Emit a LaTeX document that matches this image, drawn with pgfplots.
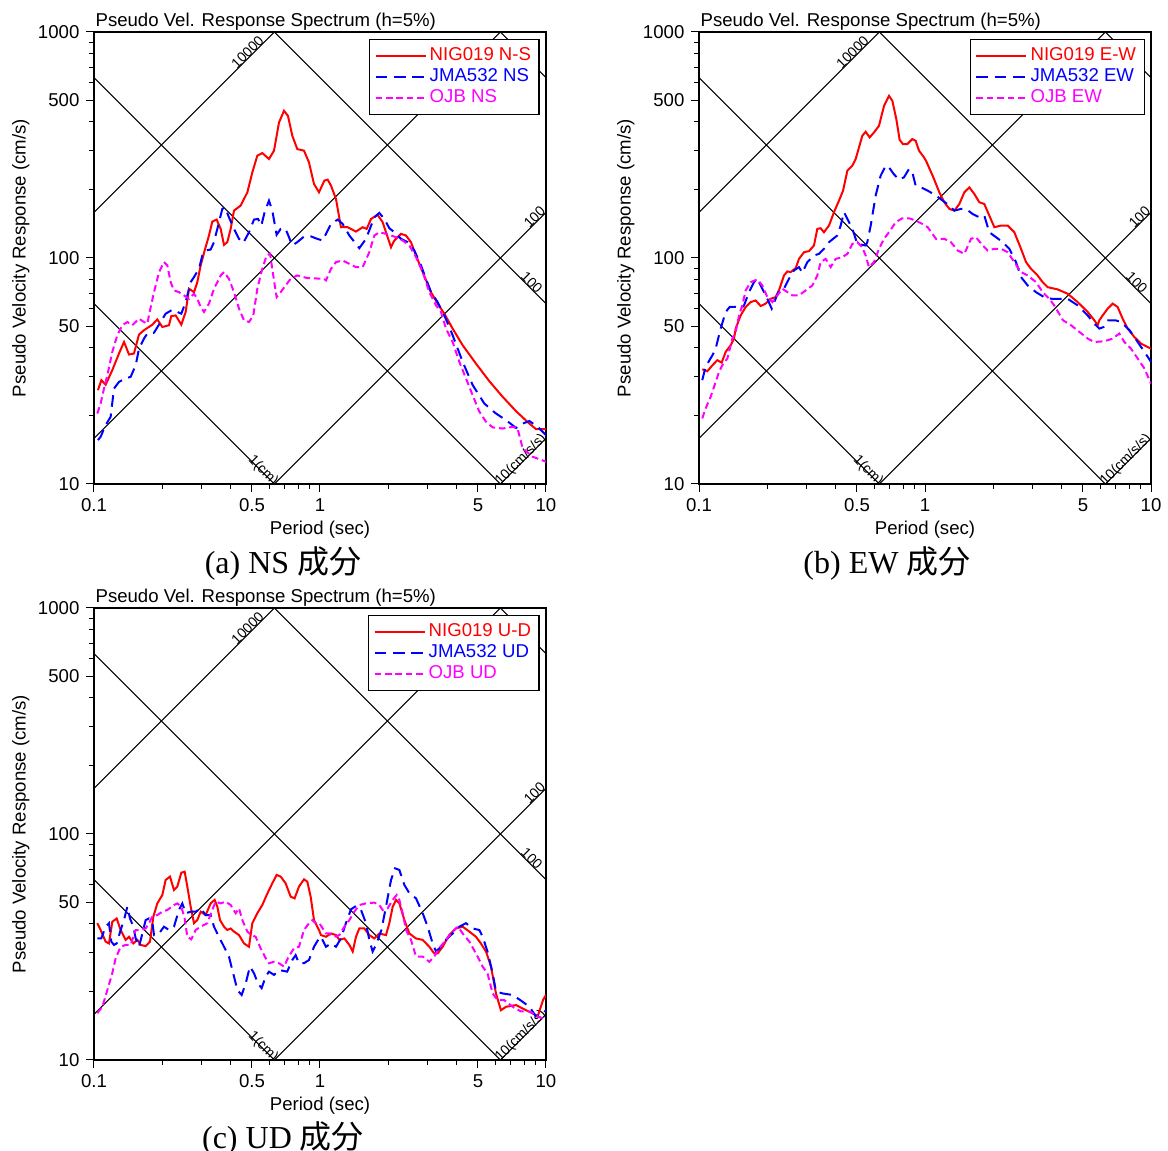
\documentclass[border=0pt]{standalone}
\usepackage{pgfplots}
\pgfplotsset{compat=1.18}
\usepackage{fontspec}
\setmainfont{Liberation Sans}
\newfontfamily\capfont{Liberation Serif}
\newfontfamily\cjk{Noto Sans CJK JP}
\definecolor{cR}{RGB}{255,0,0}
\definecolor{cB}{RGB}{0,0,255}
\definecolor{cM}{RGB}{255,0,255}
\newcommand{\tf}{\fontsize{9.3}{11}\selectfont}
\tikzset{
  dlab/.style={anchor=base, inner sep=0pt, font=\fontsize{7}{8}\selectfont},
  rline/.style={cR, line width=1pt},
  bline/.style={cB, line width=1pt, dash pattern=on 5.8pt off 3.4pt},
  mline/.style={cM, line width=1pt, dash pattern=on 3.3pt off 1.9pt},
  gline/.style={black, line width=0.5pt},
}
\pgfplotsset{
  every axis/.append style={
    xmode=log, ymode=log, scale only axis, width=226pt, height=226pt,
    xmin=0.1, xmax=10, ymin=10, ymax=1000,
    xtick={0.1,0.5,1,5,10}, xticklabels={0.1,0.5,1,5,10},
    minor xtick={0.2,0.3,0.4,0.6,0.7,0.8,0.9,2,3,4,6,7,8,9},
    ytick={10,50,100,500,1000}, yticklabels={10,50,100,500,1000},
    minor ytick={20,30,40,60,70,80,90,200,300,400,600,700,800,900},
    tick align=outside, xtick pos=left, ytick pos=left,
    major tick length=3.8pt, minor tick length=2.6pt,
    axis line style={line width=0.75pt},
    tick style={black, line width=0.5pt},
    tick label style={font=\tf},
    label style={font=\tf},
    xlabel style={at={(axis description cs:0.5,-0.1)}, anchor=center},
    ylabel style={at={(axis description cs:-0.162,0.5)}, anchor=center},
    clip mode=individual,
    legend style={at={(1,1)}, xshift=-3pt, yshift=-3.4pt, anchor=north east, draw=black,
      line width=0.75pt, fill=white, font=\tf, row sep=-0.7pt, inner xsep=2.5pt, inner ysep=2.6pt,
      nodes={inner sep=1.6pt}},
    legend cell align=left,
  },
}
\newcommand{\tripgrid}{%
  \addplot[gline, forget plot] coordinates {(0.1,62.83) (0.6283,10)};
  \addplot[gline, forget plot] coordinates {(0.1,628.3) (6.283,10)};
  \addplot[gline, forget plot] coordinates {(0.6283,1000) (10,62.83)};
  \addplot[gline, forget plot] coordinates {(6.283,1000) (10,628.3)};
  \addplot[gline, forget plot] coordinates {(6.283,10) (10,15.92)};
  \addplot[gline, forget plot] coordinates {(0.6283,10) (10,159.2)};
  \addplot[gline, forget plot] coordinates {(0.1,15.92) (6.283,1000)};
  \addplot[gline, forget plot] coordinates {(0.1,159.2) (0.6283,1000)};
  \node[dlab, rotate=45] at (axis cs:0.494,786) {10000};
  \node[dlab, rotate=45] at (axis cs:9.21,146.6) {100};
  \node[dlab, rotate=-45] at (axis cs:8.36,75.2) {100};
  \node[dlab, rotate=-45] at (axis cs:0.5452,11.13) {1(cm)};
  \node[dlab, rotate=45] at (axis cs:7.95,12.44) {10(cm/s/s)};
  \node[anchor=base west, inner sep=0pt, font=\tf] at (rel axis cs:0,1) [shift={(0.6pt,2.6pt)}] {Pseudo Vel. Response Spectrum (h=5\%)};
}
\begin{document}
\begin{tikzpicture}
\path[use as bounding box] (0,0) rectangle (584pt,575.5pt);

% ---------------- (a) NS ----------------
\begin{axis}[at={(47pt,333.5pt)}, anchor=south west,
  xlabel={Period (sec)}, ylabel={Pseudo Velocity Response (cm/s)},
  legend image code/.code={\draw[#1] (0pt,0pt) -- (25pt,0pt);}]
\tripgrid
\addplot[rline] coordinates {(0.1041,26.0)(0.1078,28.8)(0.1126,27.5)(0.1205,31.9)(0.129,37.8)(0.1358,42.5)(0.1429,37.4)(0.1503,37.8)(0.1581,45.8)(0.1664,47.9)(0.1812,50.7)(0.1906,53.5)(0.2006,49.5)(0.2147,50.4)(0.2198,55.3)(0.2298,55.7)(0.2434,50.7)(0.2545,57.7)(0.2633,73.1)(0.277,70.6)(0.2866,78.2)(0.2965,92.7)(0.3088,107.9)(0.3227,125.7)(0.3338,144.9)(0.349,147.9)(0.3636,134.5)(0.3761,114.3)(0.389,117.5)(0.4024,134.5)(0.4164,162.1)(0.4457,170.6)(0.4771,195.3)(0.5018,239.3)(0.528,283.5)(0.5557,291.3)(0.5947,274.1)(0.6259,298.4)(0.6587,397.9)(0.6929,447.9)(0.7216,425.7)(0.7543,347.4)(0.7936,303.4)(0.8497,298.4)(0.8938,264.9)(0.9408,212.6)(0.9899,195.3)(1.045,219.9)(1.081,222.2)(1.119,208.9)(1.177,182.4)(1.238,136.8)(1.326,136.8)(1.443,130.9)(1.545,136.8)(1.609,134.5)(1.682,148.9)(1.8,155.1)(1.894,143.9)(1.959,130.0)(2.062,111.6)(2.133,119.5)(2.283,127.9)(2.402,125.7)(2.527,117.5)(2.66,102.6)(2.848,86.6)(3.099,70.6)(3.316,62.8)(3.549,56.7)(3.864,48.7)(4.279,41.1)(4.9,34.1)(5.614,28.5)(6.433,24.3)(7.37,21.0)(8.44,18.5)(9.03,17.5)(10,17.5)};
\addlegendentry{\textcolor{cR}{NIG019 N-S}}
\addplot[bline] coordinates {(0.1041,15.64)(0.107,16.18)(0.1126,18.22)(0.1185,19.83)(0.1226,26.45)(0.129,28.3)(0.1381,29.3)(0.1453,29.8)(0.1529,33.5)(0.1582,39.7)(0.1664,44.0)(0.1722,46.3)(0.1843,46.7)(0.1972,52.1)(0.2075,56.7)(0.2222,59.0)(0.2337,57.7)(0.2434,56.7)(0.2545,63.8)(0.2678,78.2)(0.277,82.3)(0.2915,89.6)(0.3015,102.6)(0.3119,107.9)(0.3283,109.0)(0.3396,117.5)(0.3513,134.5)(0.3697,164.9)(0.3798,167.7)(0.3956,151.4)(0.4164,134.5)(0.4382,121.5)(0.4579,116.7)(0.4851,130.0)(0.5105,147.9)(0.5317,148.9)(0.55,139.2)(0.569,159.4)(0.5947,179.4)(0.6152,162.1)(0.6429,126.6)(0.6699,134.5)(0.7046,134.5)(0.7543,113.6)(0.7936,117.5)(0.8497,124.4)(0.9094,124.7)(0.9732,121.5)(1.028,119.5)(1.119,141.5)(1.198,147.9)(1.26,141.5)(1.349,125.7)(1.493,110.5)(1.598,121.5)(1.739,151.4)(1.83,158.3)(1.926,148.9)(2.027,135.4)(2.133,130.0)(2.283,121.5)(2.443,117.5)(2.615,107.9)(2.799,92.7)(2.944,80.9)(3.099,70.6)(3.316,63.8)(3.549,55.7)(3.864,45.5)(4.279,34.7)(4.737,27.4)(5.335,22.7)(6.008,20.5)(6.653,19.17)(7.37,17.7)(7.887,18.5)(8.44,19.0)(9.19,17.9)(10,16.45)};
\addlegendentry{\textcolor{cB}{JMA532 NS}}
\addplot[mline] coordinates {(0.1034,20.5)(0.107,22.7)(0.1107,26.45)(0.1146,30.3)(0.1205,38.4)(0.1268,45.5)(0.1335,50.4)(0.1405,52.1)(0.1477,50.4)(0.1582,53.9)(0.1664,52.1)(0.1722,51.2)(0.1763,57.7)(0.1843,70.6)(0.194,86.6)(0.204,95.9)(0.2111,92.7)(0.2184,78.2)(0.2259,71.9)(0.2377,70.6)(0.2501,68.3)(0.2633,66.0)(0.277,69.5)(0.2866,66.0)(0.2965,60.7)(0.3066,57.7)(0.3227,62.8)(0.3396,73.1)(0.3636,83.7)(0.3761,86.6)(0.3956,80.9)(0.4164,70.6)(0.4382,59.7)(0.461,53.0)(0.4851,52.1)(0.507,55.7)(0.528,73.1)(0.5557,89.6)(0.5808,102.6)(0.6012,104.3)(0.6259,79.6)(0.6429,67.1)(0.6699,70.6)(0.7046,75.6)(0.7418,80.9)(0.7936,83.7)(0.879,81.5)(1.041,80.9)(1.063,79.6)(1.119,89.6)(1.177,95.9)(1.26,97.5)(1.349,94.2)(1.443,91.1)(1.545,91.1)(1.653,106.1)(1.739,125.7)(1.83,130.0)(1.959,127.9)(2.17,123.6)(2.322,119.5)(2.485,113.6)(2.66,100.8)(2.848,86.6)(3.046,70.6)(3.261,61.7)(3.431,57.7)(3.61,48.7)(3.864,42.5)(4.136,34.7)(4.426,29.3)(4.737,24.7)(5.07,20.9)(5.427,18.85)(5.808,17.8)(6.433,17.6)(7.12,17.9)(7.49,17.6)(7.887,14.37)(8.73,13.2)(10,12.55)};
\addlegendentry{\textcolor{cM}{OJB NS}}
\end{axis}

% ---------------- (b) EW ----------------
\begin{axis}[at={(349.5pt,333.5pt)}, anchor=south west,
  xlabel={Period (sec)}, ylabel={Pseudo Velocity Response (cm/s)},
  legend image code/.code={\draw[#1] (0pt,0pt) -- (25pt,0pt);}]
\tripgrid
\addplot[rline] coordinates {(0.1034,32.2)(0.1089,31.55)(0.1146,33.5)(0.1205,35.3)(0.126,34.45)(0.1312,38.4)(0.1381,41.1)(0.1429,44.0)(0.1453,48.7)(0.1529,55.7)(0.1609,60.7)(0.1693,63.8)(0.1781,64.9)(0.1875,61.3)(0.1972,62.8)(0.2075,66.0)(0.2184,67.1)(0.2259,71.9)(0.2377,83.7)(0.2459,87.2)(0.2545,86.6)(0.2678,90.2)(0.277,99.1)(0.2915,106.1)(0.3066,107.2)(0.3227,113.6)(0.3338,134.5)(0.3454,135.4)(0.3573,130.0)(0.3761,139.2)(0.3956,159.4)(0.4164,179.4)(0.4339,198.6)(0.4534,243.4)(0.4771,256.1)(0.4935,274.1)(0.528,347.4)(0.5463,361.9)(0.569,341.6)(0.5947,359.4)(0.6259,384.6)(0.6587,471.3)(0.6929,521.8)(0.7171,495.9)(0.7467,411.6)(0.7723,333.6)(0.7989,319.2)(0.8348,319.2)(0.879,335.9)(0.9094,330.3)(0.9408,298.4)(0.9899,278.7)(1.01,269.4)(1.081,231.3)(1.157,195.3)(1.218,176.4)(1.282,164.9)(1.349,162.1)(1.419,173.4)(1.493,195.3)(1.571,205.4)(1.653,192.0)(1.739,176.4)(1.83,173.4)(1.926,154.0)(2.027,136.8)(2.17,139.2)(2.322,139.2)(2.485,130.0)(2.66,109.8)(2.799,95.9)(2.944,89.6)(3.151,83.7)(3.316,78.2)(3.489,74.3)(3.864,72.6)(4.279,69.5)(4.737,63.8)(5.245,57.7)(5.614,53.0)(5.808,50.4)(5.907,53.0)(6.11,55.7)(6.433,59.7)(6.77,62.8)(7.12,60.7)(7.49,53.9)(7.887,48.7)(8.44,44.7)(9.03,41.8)(10,39.7)};
\addlegendentry{\textcolor{cR}{NIG019 E-W}}
\addplot[bline] coordinates {(0.1034,28.8)(0.107,33.0)(0.1146,37.1)(0.1185,39.7)(0.1247,48.7)(0.1312,57.7)(0.1367,60.7)(0.1453,60.7)(0.1529,59.7)(0.1582,61.7)(0.1664,70.6)(0.1751,78.2)(0.1812,80.9)(0.1906,73.1)(0.2006,66.0)(0.2097,59.7)(0.2169,64.9)(0.2259,71.9)(0.2377,73.1)(0.2501,80.9)(0.2633,88.1)(0.277,91.1)(0.2866,86.0)(0.3015,95.9)(0.3227,102.6)(0.3396,104.3)(0.3573,109.8)(0.3761,117.5)(0.3956,122.4)(0.4093,125.7)(0.4236,139.2)(0.4382,159.4)(0.4534,148.9)(0.4771,134.5)(0.5018,115.5)(0.528,114.3)(0.5463,113.6)(0.5557,117.5)(0.5752,139.2)(0.605,188.8)(0.6365,231.3)(0.6699,256.1)(0.6929,251.8)(0.7269,235.3)(0.7674,222.2)(0.8071,227.5)(0.8497,247.6)(0.879,239.3)(0.9094,208.9)(0.96,205.4)(1.028,198.6)(1.119,188.8)(1.198,179.4)(1.282,170.6)(1.349,162.1)(1.443,164.9)(1.519,164.9)(1.623,156.7)(1.739,151.4)(1.83,154.0)(1.926,130.0)(2.062,123.6)(2.206,117.5)(2.363,109.8)(2.527,95.9)(2.66,82.3)(2.848,75.6)(3.099,70.6)(3.367,67.1)(3.633,66.0)(3.92,66.0)(4.279,66.0)(4.737,61.7)(5.245,55.7)(5.614,51.2)(5.907,48.7)(6.17,49.5)(6.45,53.0)(6.96,53.0)(7.37,52.1)(8.04,47.9)(8.73,42.5)(9.36,38.4)(10,34.7)};
\addlegendentry{\textcolor{cB}{JMA532 EW}}
\addplot[mline] coordinates {(0.1034,19.5)(0.107,21.6)(0.1126,24.3)(0.1185,28.3)(0.1226,31.3)(0.1268,33.5)(0.1335,35.9)(0.1405,44.0)(0.1453,47.1)(0.1503,55.7)(0.1555,61.7)(0.1609,71.9)(0.1693,78.2)(0.1812,80.4)(0.1906,75.6)(0.2006,67.1)(0.2111,63.8)(0.2222,68.3)(0.2337,73.1)(0.2459,70.7)(0.2588,68.3)(0.277,68.3)(0.2965,71.9)(0.3174,75.6)(0.3338,83.7)(0.3454,95.9)(0.3636,99.1)(0.3825,91.1)(0.4024,99.1)(0.4309,100.8)(0.4534,104.3)(0.4771,115.5)(0.5018,117.5)(0.528,111.6)(0.5463,102.6)(0.5652,91.1)(0.5947,95.9)(0.6259,109.8)(0.6587,121.5)(0.6929,130.0)(0.7418,143.9)(0.7936,149.9)(0.8497,149.9)(0.9094,146.4)(0.9732,141.5)(1.028,136.8)(1.119,121.5)(1.218,121.5)(1.302,117.5)(1.396,107.9)(1.493,104.3)(1.598,121.5)(1.68,123.6)(1.8,113.6)(1.894,107.9)(2.027,109.8)(2.17,109.8)(2.322,106.1)(2.485,95.9)(2.66,86.6)(2.848,83.7)(3.099,78.2)(3.316,70.6)(3.549,66.0)(3.73,61.7)(4.08,53.0)(4.426,50.4)(4.82,47.1)(5.245,44.0)(5.614,42.5)(6.22,42.8)(6.77,44.0)(7.24,46.3)(7.62,42.5)(8.16,39.7)(8.73,35.9)(9.36,32.4)(10,27.8)};
\addlegendentry{\textcolor{cM}{OJB EW}}
\end{axis}

% ---------------- (c) UD ----------------
\begin{axis}[at={(47pt,45.5pt)}, anchor=south west,
  xlabel={Period (sec)}, ylabel={Pseudo Velocity Response (cm/s)},
  legend image code/.code={\draw[#1] (0pt,0pt) -- (25pt,0pt);}]
\tripgrid
\addplot[rline] coordinates {(0.1034,40.3)(0.107,37.6)(0.1126,33.4)(0.1165,32.8)(0.1205,40.9)(0.126,42.3)(0.1312,37.6)(0.1381,34.0)(0.1429,35.1)(0.1494,32.8)(0.1555,34.0)(0.1609,32.3)(0.1693,31.9)(0.1769,33.4)(0.1831,43.1)(0.1906,49.3)(0.2006,53.7)(0.2075,62.6)(0.2169,64.8)(0.2259,56.5)(0.2337,58.5)(0.2434,67.4)(0.2519,68.1)(0.2588,58.5)(0.2678,47.7)(0.277,40.3)(0.2866,41.6)(0.2965,45.3)(0.3119,43.8)(0.3283,49.3)(0.3419,51.1)(0.3513,47.7)(0.3611,41.6)(0.3761,38.9)(0.389,37.6)(0.4024,38.2)(0.4164,37.0)(0.4382,35.7)(0.461,32.8)(0.4851,31.7)(0.5018,40.3)(0.528,44.6)(0.5557,48.5)(0.5808,53.7)(0.6152,60.5)(0.6429,65.9)(0.6699,64.8)(0.7046,60.5)(0.7418,52.8)(0.7723,51.9)(0.8071,58.5)(0.8497,63.0)(0.879,61.5)(0.9094,52.8)(0.9408,41.6)(0.9899,37.6)(1.01,35.7)(1.063,35.1)(1.119,36.3)(1.177,35.7)(1.218,34.0)(1.282,34.5)(1.349,32.3)(1.396,30.2)(1.443,35.1)(1.493,38.2)(1.571,38.2)(1.653,35.7)(1.739,34.5)(1.83,36.3)(1.959,35.7)(2.027,40.3)(2.098,47.7)(2.17,51.1)(2.245,49.3)(2.363,41.6)(2.485,36.3)(2.66,34.5)(2.848,34.0)(3.046,31.7)(3.203,29.6)(3.316,29.6)(3.489,31.7)(3.73,35.7)(3.99,38.2)(4.279,38.9)(4.58,37.0)(4.9,35.1)(5.15,32.8)(5.427,30.2)(5.71,25.9)(6.008,19.7)(6.32,16.6)(6.653,17.2)(7.37,17.5)(8.16,16.6)(8.73,16.1)(9.19,15.6)(9.7,18.4)(10,19.4)};
\addlegendentry{\textcolor{cR}{NIG019 U-D}}
\addplot[bline] coordinates {(0.1034,34.5)(0.1077,34.5)(0.1126,38.9)(0.1165,40.3)(0.1193,33.4)(0.1226,32.3)(0.126,32.8)(0.1312,37.6)(0.1357,41.6)(0.1405,47.7)(0.1443,42.3)(0.1494,38.9)(0.1529,34.5)(0.1582,31.7)(0.1637,36.3)(0.1693,41.6)(0.1751,42.3)(0.1812,40.9)(0.1843,35.7)(0.194,36.3)(0.204,38.9)(0.2147,37.6)(0.2259,38.9)(0.2377,46.1)(0.2459,49.3)(0.2545,44.6)(0.2678,45.3)(0.2818,45.3)(0.2965,46.9)(0.3119,43.8)(0.3283,43.8)(0.3396,38.9)(0.3573,35.1)(0.3761,31.7)(0.3956,28.7)(0.4164,23.4)(0.4309,20.4)(0.4502,19.4)(0.469,21.8)(0.4899,25.9)(0.5105,24.2)(0.5317,21.8)(0.5519,20.8)(0.5752,23.4)(0.5947,24.6)(0.6259,23.8)(0.6587,25.0)(0.6884,24.8)(0.7158,24.6)(0.7543,27.7)(0.7803,29.1)(0.8071,26.8)(0.8497,26.8)(0.8939,27.7)(0.9408,31.7)(0.9899,34.5)(1.01,35.1)(1.063,31.7)(1.119,32.8)(1.177,31.7)(1.238,34.5)(1.302,40.3)(1.371,46.4)(1.443,48.0)(1.519,46.1)(1.598,40.3)(1.653,34.0)(1.71,30.2)(1.77,32.3)(1.87,37.6)(1.959,47.7)(2.062,62.6)(2.148,70.5)(2.245,69.3)(2.363,59.5)(2.485,54.7)(2.66,51.9)(2.848,44.6)(2.995,38.9)(3.151,32.8)(3.261,30.2)(3.431,31.7)(3.61,34.0)(3.864,36.3)(4.136,38.9)(4.426,40.3)(4.737,38.2)(5.07,37.6)(5.245,35.1)(5.51,30.2)(5.808,24.2)(6.008,20.1)(6.433,19.7)(7.12,19.4)(7.887,18.1)(8.44,17.2)(9.03,15.6)(9.5,15.8)(10,16.6)};
\addlegendentry{\textcolor{cB}{JMA532 UD}}
\addplot[mline] coordinates {(0.1034,16.1)(0.1089,17.2)(0.1146,20.4)(0.1205,24.2)(0.1247,28.2)(0.1312,31.7)(0.1381,32.3)(0.1453,32.3)(0.1529,37.6)(0.1609,37.6)(0.1693,38.2)(0.1751,40.3)(0.1812,43.1)(0.1906,43.8)(0.2006,45.3)(0.2111,46.1)(0.2259,48.5)(0.2337,49.3)(0.2434,47.7)(0.2519,42.3)(0.2588,35.1)(0.2694,34.2)(0.2818,37.6)(0.2965,38.9)(0.3174,40.3)(0.3338,46.1)(0.3454,50.2)(0.3636,49.3)(0.3825,50.2)(0.4024,48.5)(0.4236,44.6)(0.4382,46.9)(0.4534,41.6)(0.4771,37.0)(0.4967,35.7)(0.5192,35.1)(0.5463,31.2)(0.5752,28.2)(0.5947,26.8)(0.6259,27.2)(0.6587,26.8)(0.6929,25.9)(0.7269,28.7)(0.7674,31.2)(0.8071,31.7)(0.8497,37.6)(0.8939,40.3)(0.9254,41.6)(0.9567,40.3)(0.9934,40.3)(1.063,36.3)(1.1,36.3)(1.157,35.1)(1.218,35.7)(1.282,38.9)(1.349,41.6)(1.419,45.3)(1.493,48.5)(1.598,49.3)(1.739,49.7)(1.83,48.5)(1.894,46.1)(1.993,46.9)(2.098,51.1)(2.184,53.7)(2.245,51.1)(2.322,44.6)(2.403,37.6)(2.527,34.0)(2.66,28.7)(2.848,28.7)(3.046,27.2)(3.203,28.7)(3.367,31.2)(3.61,34.0)(3.864,37.0)(4.08,38.9)(4.279,36.3)(4.58,33.4)(4.9,29.6)(5.245,25.9)(5.51,24.2)(5.808,19.7)(6.11,18.4)(6.54,18.4)(7.12,17.2)(7.75,16.4)(8.44,16.4)(9.19,15.6)(10,15.0)};
\addlegendentry{\textcolor{cM}{OJB UD}}
\end{axis}

\node[font=\fontsize{16}{19}\selectfont] at (141.5pt,293.8pt) {\capfont (a) NS \cjk 成分};
\node[font=\fontsize{16}{19}\selectfont] at (443.5pt,293.8pt) {\capfont (b) EW \cjk 成分};
\node[font=\fontsize{16}{19}\selectfont] at (141.5pt,6.5pt) {\capfont (c) UD \cjk 成分};
\end{tikzpicture}
\end{document}
